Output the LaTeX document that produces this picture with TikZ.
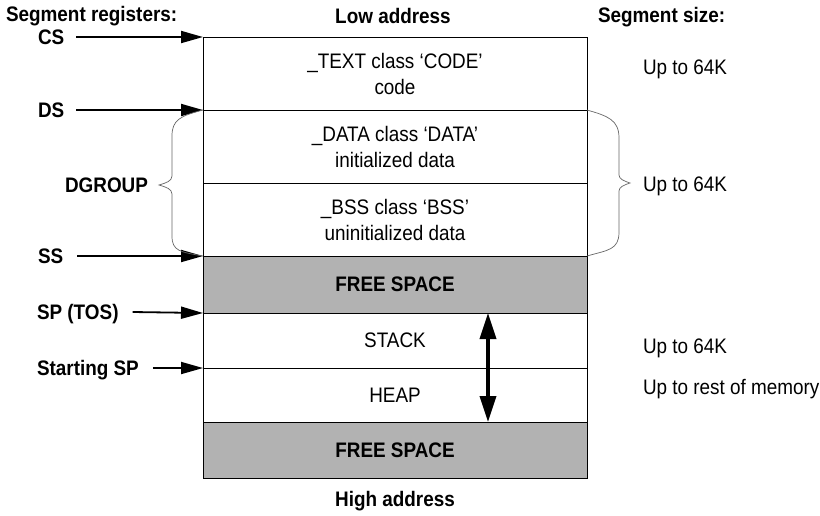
\documentclass[tikz,border=0pt]{standalone}
\usepackage{fontspec}
\setmainfont[FakeStretch=0.9]{Liberation Sans}
\usetikzlibrary{arrows.meta,calc}
\begin{document}
\begin{tikzpicture}[x=1pt,y=-1pt,
  every node/.style={font=\fontsize{21}{26}\selectfont, inner sep=0pt, outer sep=0pt},
  rowbox/.style={draw=black, line width=0.9pt, minimum width=384pt, align=center},
  freebox/.style={rowbox, fill=black!30, font=\fontsize{21}{26}\selectfont\bfseries},
  reglabel/.style={anchor=west, font=\fontsize{21}{26}\selectfont\bfseries, text height=15pt, text depth=0pt},
  heading/.style={font=\fontsize{21}{26}\selectfont\bfseries},
  sizelabel/.style={anchor=base west},
  regarrow/.style={line width=1.8pt, -{Triangle[length=22pt,width=12pt]}},
  bigarrow/.style={line width=3.5pt, {Triangle[length=26pt,width=16pt]}-{Triangle[length=26pt,width=16pt]}},
  bracepath/.style={draw=black!60, line width=0.7pt}
]
\useasboundingbox (0,0) rectangle (820,515);

% headings
\node[heading, anchor=base west] (hregs) at (6,21) {Segment registers:};
\node[heading, anchor=base] (hlow) at (393,23) {Low address};
\node[heading, anchor=base west] (hsize) at (598,22) {Segment size:};

% memory layout, low to high addresses
\node[rowbox, minimum height=73pt] (code) at (395,73.5) {\_TEXT class ‘CODE’\\code};
\node[rowbox, minimum height=73pt] (data) at (395,146.5) {\_DATA class ‘DATA’\\initialized data};
\node[rowbox, minimum height=73pt] (bss) at (395,219.5) {\_BSS class ‘BSS’\\uninitialized data};
\node[freebox, minimum height=57pt] (free1) at (395,284.5) {FREE SPACE};
\node[rowbox, minimum height=55pt] (stack) at (395,340.5) {STACK};
\node[rowbox, minimum height=54pt] (heap) at (395,395) {HEAP};
\node[freebox, minimum height=56pt] (free2) at (395,450) {FREE SPACE};

\node[heading, anchor=base] (hhigh) at (395,506) {High address};

% segment registers
\node[reglabel] (cs) at (38,37) {CS};
\node[reglabel] (ds) at (38,110) {DS};
\node[reglabel] (ss) at (38,256) {SS};
\node[reglabel] (sp) at (37,312) {SP (TOS)};
\node[reglabel] (ssp) at (37,368) {Starting SP};

\draw[regarrow] ([xshift=12pt]cs.east) -- (code.north west);
\draw[regarrow] ([xshift=12pt]ds.east) -- (data.north west);
\draw[regarrow] ([xshift=14pt]ss.east) -- (bss.south west);
\draw[regarrow] ([xshift=14pt]sp.east) -- (stack.north west);
\draw[regarrow] ([xshift=14pt]ssp.east) -- (heap.north west);

% DGROUP brace
\node[heading, anchor=east] (dgroup) at (148,185) {DGROUP};
\draw[bracepath] (data.north west)
  .. controls (180,116) and (172,120) .. (172,136) -- (172,176)
  .. controls (172,181) and (166,183) .. (159,185)
  .. controls (166,187) and (172,189) .. (172,194) -- (172,236)
  .. controls (172,251) and (180,252) .. (bss.south west);

% segment sizes
\node[sizelabel] (sz1) at (643,74) {Up to 64K};
\node[sizelabel] (sz2) at (643,191) {Up to 64K};
\node[sizelabel] (sz3) at (643,353) {Up to 64K};
\node[sizelabel] (sz4) at (643,394) {Up to rest of memory};

\draw[bracepath] (data.north east)
  .. controls (608,116) and (619,120) .. (619,138) -- (619,175)
  .. controls (619,179) and (624,181) .. (630,183)
  .. controls (624,185) and (619,187) .. (619,191) -- (619,232)
  .. controls (619,250) and (608,250) .. (bss.south east);

% stack and heap grow toward each other
\draw[bigarrow] ([xshift=93pt]free1.south) -- ([xshift=93pt]free2.north);
\end{tikzpicture}
\end{document}
